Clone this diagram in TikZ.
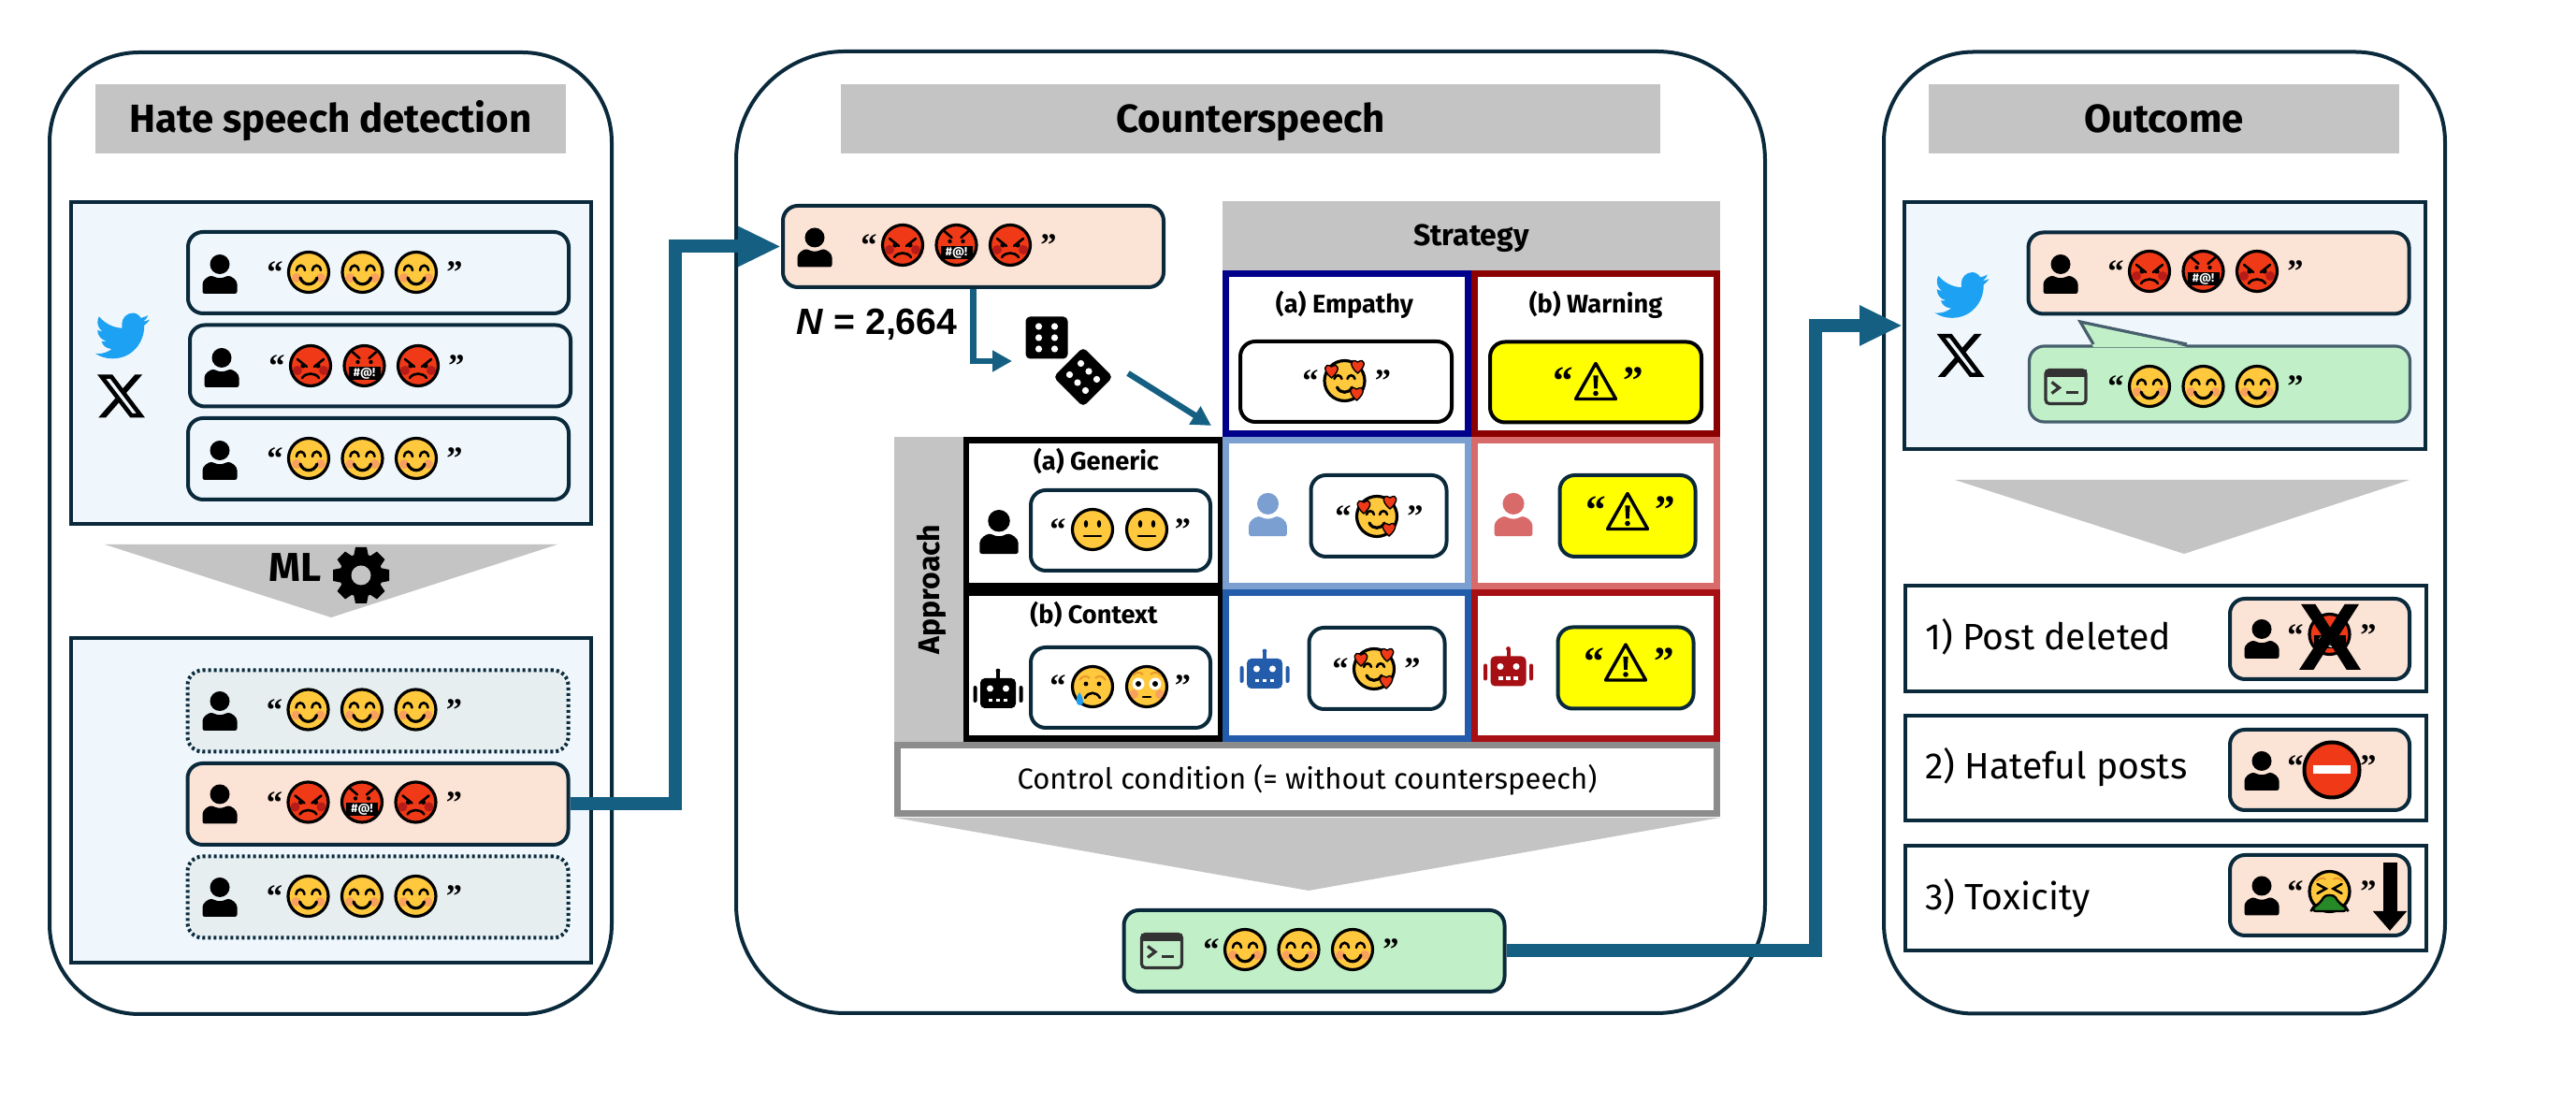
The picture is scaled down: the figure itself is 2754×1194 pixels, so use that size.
\documentclass[tikz,border=0pt]{standalone}
\usepackage{fontspec}
\setmainfont{Fira Sans}
\newfontfamily\quotefont{Liberation Serif}
\newfontfamily\arialfont{Liberation Sans}
\usetikzlibrary{arrows.meta}

\definecolor{inkline}{HTML}{0A2A3C}
\definecolor{softblue}{HTML}{EFF7FD}
\definecolor{softgrey}{HTML}{E6EEF0}
\definecolor{hatepeach}{HTML}{FBE3D6}
\definecolor{replygreen}{HTML}{C1F0C8}
\definecolor{barcolor}{HTML}{C4C4C4}
\definecolor{flowblue}{HTML}{156082}
\definecolor{smileyellow}{HTML}{FFC83D}
\definecolor{angryred}{HTML}{F03A17}
\definecolor{darkcheek}{HTML}{B81C18}
\definecolor{warmcheek}{HTML}{F9A05C}
\definecolor{browtone}{HTML}{E89A2C}
\definecolor{birdblue}{HTML}{1DA1F2}
\definecolor{termgrey}{HTML}{333333}
\definecolor{empathyblue}{HTML}{00008B}
\definecolor{warningred}{HTML}{8B0000}
\definecolor{genericblue}{HTML}{7C9FD1}
\definecolor{genericred}{HTML}{D96A6A}
\definecolor{contextblue}{HTML}{235CAB}
\definecolor{contextred}{HTML}{A60F14}
\definecolor{controlgrey}{HTML}{8C8C8C}
\definecolor{warnyellow}{rgb}{1,1,0}

\tikzset{
    panelbox/.style={draw=inkline, line width=1pt, rounded corners=24pt, fill=white},
    feedbox/.style={draw=inkline, line width=1pt, fill=softblue, minimum width=139pt},
    postbox/.style={draw=inkline, line width=1pt, rounded corners=4pt, minimum width=101.75pt, minimum height=21.75pt},
    dotbox/.style={postbox, fill=softgrey, dash pattern=on .75pt off .75pt},
    minibox/.style={draw=inkline, line width=1pt, rounded corners=4pt, minimum width=48pt, minimum height=21.5pt},
    resultbox/.style={draw=inkline, line width=.9pt, fill=white, minimum width=139.25pt, minimum height=28.25pt},
    titlebar/.style={fill=barcolor, minimum height=18.5pt, text height=7.2pt, text depth=0pt, font=\fontsize{10.5}{12}\selectfont\bfseries},
    cellbox/.style={draw=#1, line width=1.65pt, fill=white, minimum width=64.85pt, minimum height=39.1pt},
    headtext/.style={anchor=base, font=\fontsize{6.8}{8}\selectfont\bfseries},
    bartext/.style={fill=barcolor, text height=5.5pt, text depth=0pt, font=\fontsize{8}{9}\selectfont\bfseries},
    outcometext/.style={anchor=base west, font=\fontsize{9.8}{11}\selectfont},
    quotemark/.style={anchor=base, yshift=-4.75pt, font=\fontsize{8.6}{10}\quotefont\bfseries\selectfont},
    warnquote/.style={anchor=base, yshift=-6pt, font=\fontsize{10.8}{12}\quotefont\bfseries\selectfont},
    flowthick/.style={draw=flowblue, line width=3.5pt, -{Triangle[length=11.5pt,width=10pt]}},
    flowthin/.style={draw=flowblue, line width=1.6pt, -{Triangle[length=5.2pt,width=5.4pt]}},
    faceline/.style={draw=black, line width=.8pt},
    thinink/.style={draw=black, line width=.65pt, line cap=round},
    pics/person/.style={code={
        \fill[#1] (0,-10.5) circle (10.5);
        \fill[#1, rounded corners=.6pt] (-18.5,21) -- (-18.5,13) .. controls (-18.5,6) and (-12,2) .. (-7,2) .. controls (-3,4.5) and (3,4.5) .. (7,2) .. controls (12,2) and (18.5,6) .. (18.5,13) -- (18.5,21) -- cycle;
    }},
    pics/person/.default=black,
    pics/robot/.style={code={
        \fill[#1] (-2,-20) rectangle (2,-10);
        \fill[#1] (0,-20) circle (2.4);
        \fill[#1, rounded corners=1.2pt] (-19,-12) rectangle (19,20);
        \fill[#1, rounded corners=.5pt] (-26.5,-4) rectangle (-22.5,14);
        \fill[#1, rounded corners=.5pt] (22.5,-4) rectangle (26.5,14);
        \fill[white] (-8.5,-1) circle (3.5);
        \fill[white] (8.5,-1) circle (3.5);
        \foreach \mx in {-8,0,8}
            \fill[white] (\mx-2.4,10) rectangle (\mx+2.4,13.4);
    }},
    pics/robot/.default=black,
    smileface/.pic={
        \fill[smileyellow] (0,0) circle (21.5);
        \fill[warmcheek] (-13,6) circle (5);
        \fill[warmcheek] (13,6) circle (5);
        \draw[faceline] (0,0) circle (21.5);
        \draw[thinink] (-13,-2) .. controls (-12,-9) and (-5,-9) .. (-4,-2);
        \draw[thinink] (4,-2) .. controls (5,-9) and (12,-9) .. (13,-2);
        \draw[faceline, line cap=round] (-9,6) .. controls (-6,15) and (6,15) .. (9,6);
    },
    angryface/.pic={
        \fill[angryred] (0,0) circle (21.5);
        \fill[darkcheek] (-14,5) circle (5);
        \fill[darkcheek] (14,5) circle (5);
        \draw[faceline] (0,0) circle (21.5);
        \draw[thinink] (-14,-7) -- (-4,1);
        \draw[thinink] (14,-7) -- (4,1);
        \fill (-8,0) circle (2.6);
        \fill (8,0) circle (2.6);
        \draw[thinink] (-9,13) .. controls (-5,7) and (5,7) .. (9,13);
    },
    curseface/.pic={
        \fill[angryred] (0,0) circle (21.5);
        \fill (-17,1) rectangle (17,15);
        \draw[faceline] (0,0) circle (21.5);
        \draw[thinink] (-13,-15) -- (-5,-8);
        \draw[thinink] (13,-15) -- (5,-8);
        \fill (-7,-4) circle (2.2);
        \fill (7,-4) circle (2.2);
        \node[text=white, inner sep=0pt, font=\fontsize{3.2}{4}\selectfont\bfseries] (swear) at (0,8) {\#@!};
    },
    neutralface/.pic={
        \draw[faceline, fill=smileyellow] (0,0) circle (21.5);
        \fill (-7,-6) circle [x radius=2.2, y radius=4];
        \fill (7,-6) circle [x radius=2.2, y radius=4];
        \draw[thinink] (-9,7) -- (9,7);
    },
    sadface/.pic={
        \draw[faceline, fill=smileyellow] (0,0) circle (21.5);
        \draw[draw=browtone, line width=.5pt] (-14,-7) .. controls (-11,-12) and (-6,-12) .. (-3,-9);
        \draw[draw=browtone, line width=.5pt] (14,-7) .. controls (11,-12) and (6,-12) .. (3,-9);
        \fill (-7,-3) circle (2.4);
        \fill (7,-3) circle (2.4);
        \draw[thinink] (-8,12) .. controls (-4,5) and (4,5) .. (8,12);
        \fill[birdblue] (-14,6) .. controls (-19,14) and (-18,20) .. (-13,20) .. controls (-9,20) and (-9,13) .. (-14,6) -- cycle;
    },
    flushface/.pic={
        \fill[smileyellow] (0,0) circle (21.5);
        \fill[warmcheek] (-14,8) circle (5);
        \fill[warmcheek] (14,8) circle (5);
        \draw[faceline] (0,0) circle (21.5);
        \draw[draw=browtone, line width=.5pt] (-15,-12) .. controls (-12,-16) and (-7,-16) .. (-4,-13);
        \draw[draw=browtone, line width=.5pt] (15,-12) .. controls (12,-16) and (7,-16) .. (4,-13);
        \fill[white] (-9,-3) circle (6.5);
        \fill[white] (9,-3) circle (6.5);
        \fill (-9,-3) circle (3);
        \fill (9,-3) circle (3);
        \draw[thinink] (-4,11) -- (4,11);
    },
    heartface/.pic={
        \draw[faceline, fill=smileyellow] (0,0) circle (21.5);
        \draw[thinink] (-11,-2) .. controls (-10,-7) and (-4,-7) .. (-3,-2);
        \draw[thinink] (3,-2) .. controls (4,-7) and (10,-7) .. (11,-2);
        \draw[faceline, line cap=round] (-8,7) .. controls (-5,14) and (5,14) .. (8,7);
        \foreach \hx/\hy in {-14/-11,14/-16,13/13}
            \draw[draw=black, line width=.35pt, fill=angryred] (\hx,\hy+8) .. controls (\hx-10,\hy) and (\hx-8,\hy-9) .. (\hx,\hy-4) .. controls (\hx+8,\hy-9) and (\hx+10,\hy) .. (\hx,\hy+8) -- cycle;
    },
    vomitface/.pic={
        \draw[faceline, fill=smileyellow] (0,0) circle (21.5);
        \draw[draw=browtone, line width=.5pt] (-14,-11) .. controls (-11,-15) and (-7,-15) .. (-4,-13);
        \draw[draw=browtone, line width=.5pt] (14,-11) .. controls (11,-15) and (7,-15) .. (4,-13);
        \draw[thinink] (-13,-8) -- (-4,-3) -- (-13,2);
        \draw[thinink] (13,-8) -- (4,-3) -- (13,2);
        \draw[draw=black, line width=.6pt, fill=green!45!black!85!white, rounded corners=1.5pt] (-20,21) -- (-17,16) -- (-9,12) .. controls (-5,3) and (5,3) .. (9,12) -- (17,16) -- (20,21) -- cycle;
    },
    noentry/.pic={
        \draw[draw=black, line width=1pt, fill=angryred] (0,0) circle (29.5);
        \fill[white] (-20,-4.5) rectangle (20,4.5);
    },
    warnsign/.pic={
        \draw[draw=black, line width=.85pt, line join=round] (0,-19) -- (21.5,19) -- (-21.5,19) -- cycle;
        \fill (-2.6,-6) -- (2.6,-6) -- (1.8,8) -- (-1.8,8) -- cycle;
        \fill (0,13) circle (2.8);
    },
    terminal/.pic={
        \draw[draw=termgrey, line width=.8pt, rounded corners=1pt] (-21.5,-18) rectangle (21.5,18);
        \fill[termgrey] (-22,-18.5) rectangle (22,-10);
        \draw[draw=termgrey, line width=.8pt] (-15,-5) -- (-7,1) -- (-15,7);
        \draw[draw=termgrey, line width=.9pt] (0,6) -- (13,6);
    },
    dicepic/.pic={
        \fill[rounded corners=1.2pt] (-22.5,-22.5) rectangle (22.5,22.5);
        \foreach \dx in {-8.5,8.5}
            \foreach \dy in {-12,0,12}
                \fill[white] (\dx,\dy) circle (3.6);
    },
    gearpic/.pic={
        \foreach \ga in {0,45,...,315}
            \fill[rotate=\ga] (-6,-30) -- (6,-30) -- (8,-20) -- (-8,-20) -- cycle;
        \fill (0,0) circle (23);
        \fill[barcolor] (0,0) circle (10.5);
    },
    birdlogo/.pic={
        \begin{scope}[x=.605pt, y=-.605pt, shift={(-12,-11.7)}]
            \fill[birdblue] (23.95,4.57) .. controls (23.1,4.95) and (22.1,5.2) .. (21.13,5.35) .. controls (22.15,4.74) and (22.93,3.78) .. (23.29,2.62) .. controls (22.34,3.18) and (21.29,3.58) .. (20.16,3.81) .. controls (19.2,2.4) and (17.9,1.6) .. (16.6,1.6) .. controls (13.8,1.6) and (11.7,3.9) .. (11.7,6.5) .. controls (11.7,7.1) and (11.75,7.7) .. (11.78,8.29) .. controls (7.69,8.1) and (4.07,6.13) .. (1.64,3.16) .. controls (1.22,3.9) and (.97,4.76) .. (.97,5.64) .. controls (.97,7.35) and (1.84,8.85) .. (3.16,9.73) .. controls (2.34,9.7) and (1.6,9.49) .. (.93,9.12) -- (.93,9.18) .. controls (.93,11.6) and (2.6,13.5) .. (4.88,14) .. controls (4.19,14.18) and (3.4,14.2) .. (2.66,14.09) .. controls (3.3,16.1) and (5.1,17.45) .. (7.27,17.5) .. controls (5.6,18.8) and (3.5,19.6) .. (1.17,19.6) .. controls (.78,19.6) and (.39,19.58) .. (0,19.54) .. controls (2.2,20.95) and (4.75,21.75) .. (7.55,21.75) .. controls (16.6,21.75) and (21.55,14.25) .. (21.55,7.77) .. controls (21.55,7.56) and (21.55,7.35) .. (21.53,7.14) .. controls (22.49,6.45) and (23.33,5.51) .. (24,4.59) -- cycle;
        \end{scope}
    },
    xlogo/.pic={
        \begin{scope}[x=.59pt, y=-.59pt, shift={(-12,-12)}]
            \fill[even odd rule] (18.244,2.25) -- (21.552,2.25) -- (14.325,10.51) -- (22.827,21.75) -- (16.17,21.75) -- (10.956,14.933) -- (4.99,21.75) -- (1.68,21.75) -- (9.41,12.915) -- (1.254,2.25) -- (8.08,2.25) -- (12.793,8.481) -- cycle (17.083,19.77) -- (18.916,19.77) -- (7.084,4.126) -- (5.117,4.126) -- cycle;
        \end{scope}
    },
}

\newcommand{\quotepair}[5][quotemark]{
    \node[#1] (#2open) at (#3,#5) {“};
    \node[#1] (#2close) at (#4,#5) {”};
}
\newcommand{\smileline}[3]{
    \quotepair{#1}{#2-36}{#2+156}{#3-7}
    \foreach \fx in {0,57.5,115}
        \pic at (#2+\fx,#3) {smileface};
}
\newcommand{\angryline}[3]{
    \quotepair{#1}{#2-36}{#2+156}{#3-7}
    \pic at (#2,#3) {angryface};
    \pic at (#2+57.5,#3) {curseface};
    \pic at (#2+115,#3) {angryface};
}

\begin{document}
\begin{tikzpicture}[x=.25pt, y=-.25pt]
    \useasboundingbox (0,0) rectangle (2754,1194);

    \node[panelbox, minimum width=150.25pt, minimum height=257pt] (detectpanel) at (353.5,570) {};
    \node[panelbox, rounded corners=29pt, minimum width=275pt, minimum height=257pt] (counterpanel) at (1337,569) {};
    \node[panelbox, minimum width=150pt, minimum height=257pt] (outcomepanel) at (2314,569.5) {};

    \node[titlebar, minimum width=125.75pt] (detecttitle) at (353.5,127) {Hate speech detection};
    \node[titlebar, minimum width=219pt] (countertitle) at (1337,127) {Counterspeech};
    \node[titlebar, minimum width=125.75pt] (outcometitle) at (2313.5,127) {Outcome};

    \node[feedbox, minimum height=86pt] (feedtop) at (354,388) {};
    \node[postbox] (posta) at (404.5,291.5) {};
    \node[postbox] (postb) at (406.5,391) {};
    \node[postbox] (postc) at (404.5,490.5) {};
    \foreach \py in {291.5,490.5}
        \pic at (235,\py+1.5) {person};
    \pic at (237,393) {person};
    \smileline{linea}{330}{291}
    \angryline{lineb}{332}{391}
    \smileline{linec}{330}{490}
    \pic at (131,359) {birdlogo};
    \pic at (129.5,423.5) {xlogo};

    \fill[barcolor] (112,582) -- (596,582) -- (354,660) -- cycle;
    \node[anchor=base, font=\fontsize{10.8}{12}\selectfont\bfseries] (mltext) at (315.5,622) {ML};
    \pic at (386,615) {gearpic};

    \node[feedbox, minimum height=86.75pt] (feedbottom) at (354,855.5) {};
    \node[dotbox] (sorteda) at (404,760) {};
    \node[postbox, fill=hatepeach] (detected) at (404,859.5) {};
    \node[dotbox] (sortedc) at (404,959) {};
    \foreach \py in {760,859.5,959}
        \pic at (235,\py) {person};
    \smileline{lined}{329.5}{758.5}
    \angryline{linee}{329.5}{857.5}
    \smileline{linef}{329.5}{958}

    \node[postbox, fill=hatepeach] (sourcepost) at (1040.5,263.5) {};
    \pic at (871,264.5) {person};
    \angryline{lineg}{965}{262}
    \node[anchor=base, font=\fontsize{9.8}{11}\arialfont\bfseries\selectfont] (samplesize) at (937.5,358) {\textit{N} = 2,664};

    \coordinate (bendone) at (722,500);
    \draw[flowthick] (detected.east) -| (bendone) |- (sourcepost.west);

    \pic at (1119,361) {dicepic};
    \pic[rotate=45] at (1158,403) {dicepic};
    \coordinate (diceentry) at (1082,386);
    \draw[flowthin] (sourcepost.south) |- (diceentry);
    \coordinate (dicetail) at (1206,399);
    \coordinate (gridcorner) at (1295,455);
    \path (dicetail) edge [flowthin] (gridcorner);

    \node[fill=barcolor, minimum width=133pt, minimum height=18.5pt, bartext] (strategybar) at (1573,252) {Strategy};
    \node[fill=barcolor, rotate=90, minimum width=81.5pt, minimum height=18.5pt, bartext] (approachbar) at (993,630) {Approach};

    \node[cellbox=empathyblue, minimum height=42.85pt] (empathy) at (1440,378) {};
    \node[cellbox=warningred, minimum height=42.85pt] (warning) at (1706,378) {};
    \node[cellbox=black, minimum width=68pt] (generic) at (1169,548.5) {};
    \node[cellbox=black, minimum width=68pt] (context) at (1169,711.5) {};
    \node[cellbox=genericblue] (genericempathy) at (1440,548.5) {};
    \node[cellbox=genericred] (genericwarning) at (1706,548.5) {};
    \node[cellbox=contextblue] (contextempathy) at (1440,711.5) {};
    \node[cellbox=contextred] (contextwarning) at (1706,711.5) {};

    \node[headtext] (empathytext) at (1437.5,335) {(a) Empathy};
    \node[headtext] (warningtext) at (1706,335) {(b) Warning};
    \node[headtext] (generictext) at (1172,503) {(a) Generic};
    \node[headtext] (contexttext) at (1169.5,667) {(b) Context};

    \node[minibox, minimum width=56.5pt, fill=white, draw=black] (empathybox) at (1439,408) {};
    \quotepair{empathyq}{1401}{1478.5}{400}
    \pic at (1437.5,407) {heartface};
    \node[minibox, minimum width=56.5pt, fill=warnyellow, draw=black] (warningbox) at (1706,408.5) {};
    \quotepair[warnquote]{warningq}{1671}{1746}{398}
    \pic at (1706,407.5) {warnsign};

    \node[minibox, fill=white] (genericbox) at (1198,567) {};
    \pic[scale=1.12] at (1068,568.5) {person};
    \quotepair{genericq}{1131}{1264.5}{559}
    \pic at (1168,566) {neutralface};
    \pic at (1226,566) {neutralface};

    \node[minibox, fill=white] (contextbox) at (1198,735) {};
    \pic at (1067,737) {robot};
    \quotepair{contextq}{1131}{1264.5}{726}
    \pic at (1168,734) {sadface};
    \pic at (1226,734) {flushface};

    \pic[scale=1.1] at (1355.5,550) {person=genericblue};
    \node[minibox, minimum width=36.25pt, minimum height=21.75pt, fill=white] (blueboxa) at (1474,551.5) {};
    \quotepair{blueqa}{1436}{1513}{545}
    \pic at (1472,552) {heartface};

    \pic[scale=1.1] at (1618,550) {person=genericred};
    \node[minibox, minimum width=36.25pt, minimum height=21.75pt, fill=warnyellow] (redboxa) at (1740,551.5) {};
    \quotepair[warnquote]{redqa}{1706}{1780}{536}
    \pic at (1740,546.5) {warnsign};

    \pic at (1352,716) {robot=contextblue};
    \node[minibox, minimum width=36.25pt, minimum height=21.75pt, fill=white] (blueboxb) at (1472,714.5) {};
    \quotepair{blueqb}{1433}{1510}{708}
    \pic at (1469,715) {heartface};

    \pic at (1612.5,713.5) {robot=contextred};
    \node[minibox, minimum width=36.25pt, minimum height=21.75pt, fill=warnyellow] (redboxb) at (1738,714) {};
    \quotepair[warnquote]{redqb}{1704}{1779}{698}
    \pic at (1738,708) {warnsign};

    \node[draw=controlgrey, line width=1.65pt, fill=white, minimum width=219.1pt, minimum height=18.35pt, text height=5.3pt, text depth=0pt, font=\fontsize{7.75}{9}\selectfont] (controlbox) at (1397.5,833) {Control condition (= without counterspeech)};
    \fill[barcolor] (956,874) -- (1839,874) -- (1399,952) -- cycle;

    \node[postbox, fill=replygreen] (resultpost) at (1405,1016.5) {};
    \pic at (1242,1016.5) {terminal};
    \smileline{lineh}{1331}{1015}

    \node[feedbox, minimum width=139.25pt, minimum height=66pt] (feedright) at (2314.5,348) {};
    \node[postbox, fill=hatepeach] (hatereply) at (2372,292) {};
    \pic at (2203,293) {person};
    \angryline{linei}{2298}{290}
    \node[postbox, fill=replygreen, draw=inkline!75!white, minimum height=20.25pt, line width=.8pt] (replypost) at (2373,410.5) {};
    \fill[replygreen] (2238,371) -- (2222,342) -- (2338,371) -- cycle;
    \draw[draw=inkline!75!white, line width=.8pt] (2238,368) -- (2224,344) -- (2338,368);
    \pic at (2208.5,413.5) {terminal};
    \smileline{linej}{2298}{413}
    \pic at (2097.5,315.5) {birdlogo};
    \pic at (2096,380) {xlogo};

    \coordinate (bendtwo) at (1941,700);
    \draw[flowthick] (resultpost.east) -| (bendtwo) |- (feedright.west);

    \fill[barcolor] (2090,513) -- (2576,513) -- (2335,592) -- cycle;

    \node[resultbox] (deletedbox) at (2315.5,682.5) {};
    \node[resultbox, minimum height=28pt] (hatefulbox) at (2315.5,821) {};
    \node[resultbox, minimum height=28pt] (toxicbox) at (2315.5,960) {};
    \node[outcometext] (deletedtext) at (2044,695) {1) Post deleted};
    \node[outcometext] (hatefultext) at (2044,833) {2) Hateful posts};
    \node[outcometext] (toxictext) at (2044,973) {3) Toxicity};

    \node[minibox, fill=hatepeach] (deletedpost) at (2480,683) {};
    \pic at (2418,683) {person};
    \quotepair{deletedq}{2454}{2532}{672}
    \pic at (2490.5,678) {curseface};
    \node[inner sep=0pt, anchor=base, font=\fontsize{25.5}{26}\arialfont\bfseries\selectfont] (crossmark) at (2491.5,717) {X};

    \node[minibox, fill=hatepeach] (hatefulpost) at (2480,823) {};
    \pic at (2418,824) {person};
    \quotepair{hatefulq}{2454}{2532}{812}
    \pic at (2493,823) {noentry};

    \node[minibox, fill=hatepeach] (toxicpost) at (2480,957) {};
    \pic at (2418,957.5) {person};
    \quotepair{toxicq}{2454}{2532}{946}
    \pic at (2490.5,953) {vomitface};
    \coordinate (droptop) at (2555,922);
    \coordinate (dropend) at (2555,995);
    \draw[draw=black, line width=3.75pt, -{Triangle[length=5.25pt,width=8.75pt]}] (droptop) -- (dropend);
\end{tikzpicture}
\end{document}
